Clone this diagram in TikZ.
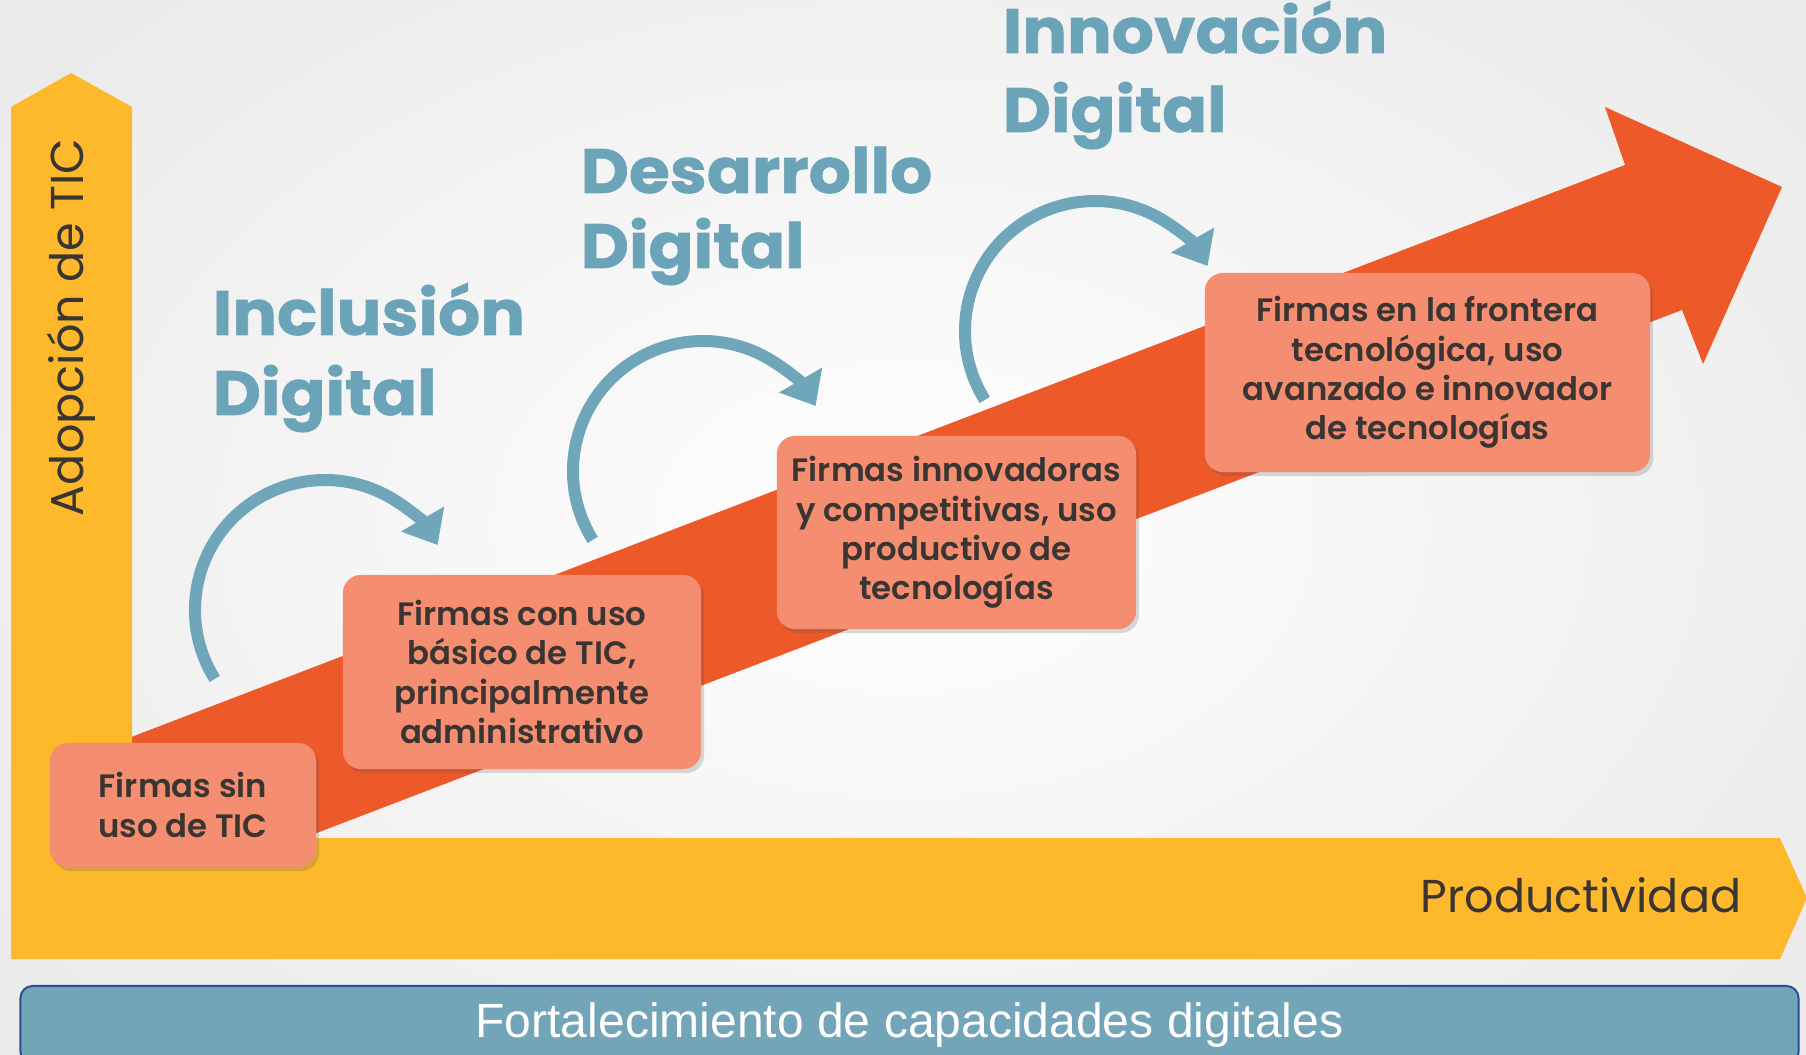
\documentclass[tikz,border=0pt]{standalone}
\usepackage{fontspec}
\setmainfont{Poppins}
\newfontfamily\barfont{Liberation Sans}
\newfontfamily\boxfont{Poppins SemiBold}
\newfontfamily\titlefont{Poppins}[FakeStretch=1.06, FakeBold=1]
\usetikzlibrary{arrows.meta,shadows}
\definecolor{axisyellow}{HTML}{FDB82B}
\definecolor{arroworange}{HTML}{EE592A}
\definecolor{boxsalmon}{HTML}{F58E71}
\definecolor{tealc}{HTML}{70A6B9}
\definecolor{titleteal}{HTML}{6BA4B8}
\definecolor{barfill}{HTML}{71A5B7}
\definecolor{barborder}{HTML}{2F4D8E}
\definecolor{darktext}{HTML}{3A3532}
\definecolor{bggray}{HTML}{EBEBEB}
\begin{document}
\begin{tikzpicture}[x=0.01cm,y=0.01cm,
  stagebox/.style={fill=boxsalmon, rounded corners=0.18cm, draw=none, text=darktext,
    font=\boxfont\fontsize{9.2}{11.2}\selectfont, align=center, inner sep=0pt,
    drop shadow={shadow xshift=0.03cm, shadow yshift=-0.04cm, opacity=0.2, fill=black!70}},
  stagetitle/.style={anchor=base west, inner sep=0pt, text=titleteal,
    font=\titlefont\fontsize{17.8}{20}\selectfont\bfseries},
  axislabel/.style={inner sep=0pt, text=darktext, font=\fontsize{13.1}{15}\selectfont},
  loopstyle/.style={draw=tealc, line width=0.12cm, -{Triangle[width=4.8mm,length=3mm]}},
]
\useasboundingbox (0,0) rectangle (1806,1054);
\clip (0,0) rectangle (1806,1054);
% background
\shade[inner color=white, outer color=bggray] (-200,-200) rectangle (2006,1254);
% orange arrow
\fill[arroworange] (100,305) -- (1625,889) -- (1605,947) -- (1782,867)
  -- (1703,690) -- (1682,744) -- (100,138) -- cycle;
% yellow axes
\fill[axisyellow] (11,95) -- (11,947) -- (71,981) -- (132,947) -- (132,216)
  -- (1780,216) -- (1807,156) -- (1780,95) -- cycle;
\node[axislabel, rotate=90, anchor=base] (ylab) at (83,726.5) {Adopción de TIC};
\node[axislabel, anchor=base east] (xlab) at (1742,142) {Productividad};
% curved arrows
\coordinate (c1) at (325,444);
\coordinate (c2) at (703,583);
\coordinate (c3) at (1095,723);
\draw[loopstyle] (c1) ++(212:130) arc[start angle=212, end angle=30, radius=130];
\draw[loopstyle] (c2) ++(212:130) arc[start angle=212, end angle=30, radius=130];
\draw[loopstyle] (c3) ++(212:130) arc[start angle=212, end angle=30, radius=130];
% boxes
\node[stagebox, minimum width=2.66cm, minimum height=1.24cm] (b1) at (183,249)
  {Firmas sin\\uso de TIC};
\node[stagebox, minimum width=3.58cm, minimum height=1.94cm] (b2) at (522,382)
  {Firmas con uso\\básico de TIC,\\principalmente\\administrativo};
\node[stagebox, minimum width=3.59cm, minimum height=1.93cm] (b3) at (956.5,521.5)
  {Firmas innovadoras\\y competitivas, uso\\productivo de\\tecnologías};
\node[stagebox, minimum width=4.45cm, minimum height=1.99cm] (b4) at (1427.5,681.5)
  {Firmas en la frontera\\tecnológica, uso\\avanzado e innovador\\de tecnologías};
% titles
\node[stagetitle] (t1a) at (212,719) {Inclusión};
\node[stagetitle] (t1b) at (212,639) {Digital};
\node[stagetitle] (t2a) at (580,861) {Desarrollo};
\node[stagetitle] (t2b) at (580,786) {Digital};
\node[stagetitle] (t3a) at (1002,1001) {Innovación};
\node[stagetitle] (t3b) at (1002,922) {Digital};
% bottom bar
\node[draw=barborder, line width=0.02cm, fill=barfill, rounded corners=0.12cm,
  minimum width=17.77cm, minimum height=0.78cm, inner sep=0pt] (bar) at (909.5,29) {};
\node[anchor=base, text=white, inner sep=0pt,
  font=\barfont\fontsize{13.66}{16}\selectfont] (bartext) at (909.5,17)
  {Fortalecimiento de capacidades digitales};
\end{tikzpicture}
\end{document}
